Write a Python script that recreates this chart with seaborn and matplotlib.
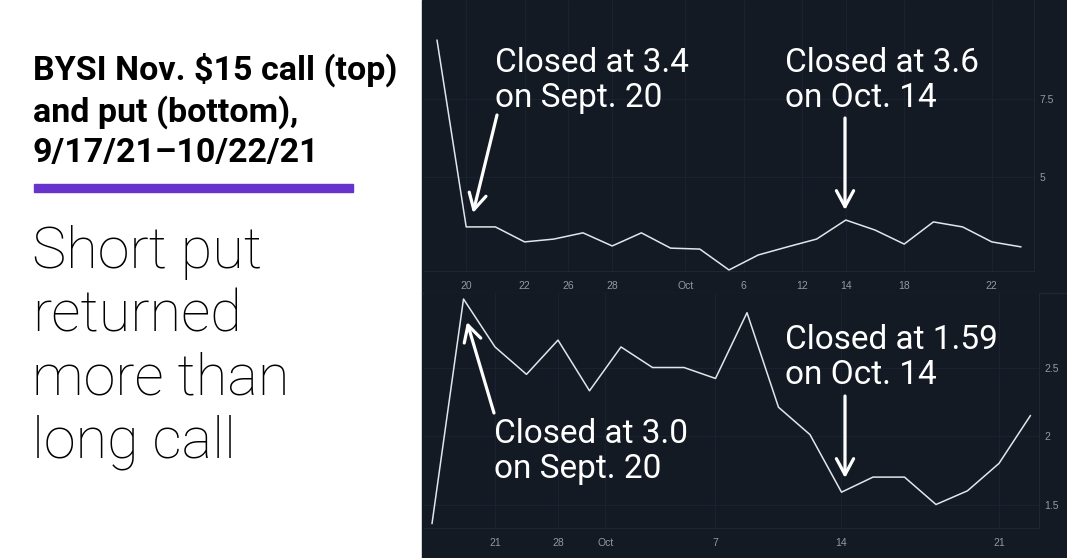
import matplotlib
matplotlib.use("Agg")
import matplotlib.pyplot as plt
import seaborn as sns
import pandas as pd

# ---------------- data ----------------
call_prices = [9.39, 3.40, 3.40, 2.92, 3.01, 3.21, 2.79, 3.21, 2.72, 2.69, 2.02,
               2.50, 2.76, 3.01, 3.62, 3.30, 2.85, 3.56, 3.40, 2.92, 2.76]
call_tick_pos = [1, 3, 4.5, 6, 8.5, 10.5, 12.5, 14, 16, 19]
call_tick_labels = ["20", "22", "26", "28", "Oct", "6", "12", "14", "18", "22"]
call_yticks = [5, 7.5]
call_ytick_labels = ["5", "7.5"]

put_prices = [1.36, 3.00, 2.65, 2.45, 2.70, 2.33, 2.65, 2.50, 2.50, 2.42, 2.90,
              2.21, 2.01, 1.59, 1.70, 1.70, 1.50, 1.60, 1.80, 2.15]
put_tick_pos = [2, 4, 5.5, 9, 13, 18]
put_tick_labels = ["21", "28", "Oct", "7", "14", "21"]
put_yticks = [1.5, 2, 2.5]
put_ytick_labels = ["1.5", "2", "2.5"]

title_text = "BYSI Nov. $15 call (top)\nand put (bottom),\n9/17/21\u201310/22/21"
subtitle_text = "Short put\nreturned\nmore than\nlong call"
# (text, last-line baseline anchor, arrow tail, arrow tip) in pixels from top-left
notes = [
    ("Closed at 3.4\non Sept. 20", (495, 107), (497, 115), (473, 213)),
    ("Closed at 3.6\non Oct. 14", (785, 107), (845, 118), (845, 210)),
    ("Closed at 3.0\non Sept. 20", (494, 478), (494, 413), (467, 322)),
    ("Closed at 1.59\non Oct. 14", (785, 384), (845, 396), (845, 478)),
]

# ---------------- style ----------------
BG = "#131a24"
GRID = "#1a2130"
TICK = "#9598a1"
LINE = "#e3e5ea"

sns.set_style("dark", {"axes.facecolor": BG, "figure.facecolor": "white",
                       "grid.color": GRID})
plt.rcParams["font.family"] = ["Roboto", "DejaVu Sans"]

W, H = 1067, 558
fig = plt.figure(figsize=(W / 100, H / 100), dpi=100, facecolor="white")


def fx(px):
    return px / W


def fy(py):
    return 1 - py / H


bg_rect = plt.Rectangle((fx(422), 0), 1 - fx(422), 1,
                        transform=fig.transFigure, color=BG, zorder=-10)
fig.patches.append(bg_rect)
fig.add_artist(plt.Line2D([fx(422), 1], [fy(293), fy(293)], color="#1f2634",
                          lw=1.0, transform=fig.transFigure, zorder=-5))

ax1 = fig.add_axes([fx(424), fy(271), fx(1034 - 424), 271 / H])
ax2 = fig.add_axes([fx(424), fy(528), fx(1039 - 424), (528 - 293) / H])

df_call = pd.DataFrame({"i": range(len(call_prices)), "price": call_prices})
df_put = pd.DataFrame({"i": range(len(put_prices)), "price": put_prices})

sns.lineplot(data=df_call, x="i", y="price", ax=ax1, color=LINE, lw=1.1)
sns.lineplot(data=df_put, x="i", y="price", ax=ax2, color=LINE, lw=1.1)

ax1.set_xlim(-0.445, 20.445)
ax1.set_ylim(1.987, 10.673)
ax2.set_xlim(-0.254, 19.27)
ax2.set_ylim(1.3285, 3.0438)

for ax, tp, tl, yt, ytl in [(ax1, call_tick_pos, call_tick_labels, call_yticks, call_ytick_labels),
                            (ax2, put_tick_pos, put_tick_labels, put_yticks, put_ytick_labels)]:
    ax.set_facecolor(BG)
    ax.set_xticks(tp)
    ax.set_xticklabels(tl)
    ax.set_yticks(yt)
    ax.set_yticklabels(ytl)
    ax.yaxis.tick_right()
    ax.tick_params(axis="both", length=0, colors=TICK, labelsize=7.5)
    ax.tick_params(axis="x", pad=7)
    ax.tick_params(axis="y", pad=4)
    for lab in ax.get_xticklabels() + ax.get_yticklabels():
        lab.set_fontfamily(["Liberation Sans", "DejaVu Sans"])
    ax.grid(True, color=GRID, lw=0.8)
    ax.set_xlabel("")
    ax.set_ylabel("")
    for s in ["top", "left"]:
        ax.spines[s].set_visible(False)
    for s in ["right", "bottom"]:
        ax.spines[s].set_color("#1e2533")
        ax.spines[s].set_linewidth(0.8)

# ---------------- left panel text ----------------
fig.text(fx(33), fy(162), title_text, fontsize=24.5, fontweight="bold",
         color="black", ha="left", va="baseline", linespacing=1.32)
fig.add_artist(plt.Rectangle((fx(34), fy(192)), fx(353 - 34), 8 / H,
                             transform=fig.transFigure, color="#6633cc"))
fig.text(fx(32), fy(458), subtitle_text, fontsize=41.5, fontweight="light",
         color="black", ha="left", va="baseline", linespacing=1.19)

# ---------------- annotations ----------------
for k, (txt, (tx, ty), tail, tip) in enumerate(notes):
    fig.text(fx(tx), fy(ty), txt, fontsize=24, color="white", ha="left",
             va="baseline", linespacing=1.13)
    host = ax1 if k < 2 else ax2
    ann = host.annotate("", xy=(tip[0], H - tip[1]), xytext=(tail[0], H - tail[1]),
                        xycoords="figure pixels", textcoords="figure pixels",
                        arrowprops=dict(arrowstyle="->,head_length=1.15,head_width=0.62",
                                        mutation_scale=10, color="white", lw=2.3,
                                        shrinkA=0, shrinkB=0),
                        annotation_clip=False)
    ann.set_clip_on(False)
    ann.arrow_patch.set_clip_on(False)

fig.savefig("out.png", dpi=100, facecolor="white")
